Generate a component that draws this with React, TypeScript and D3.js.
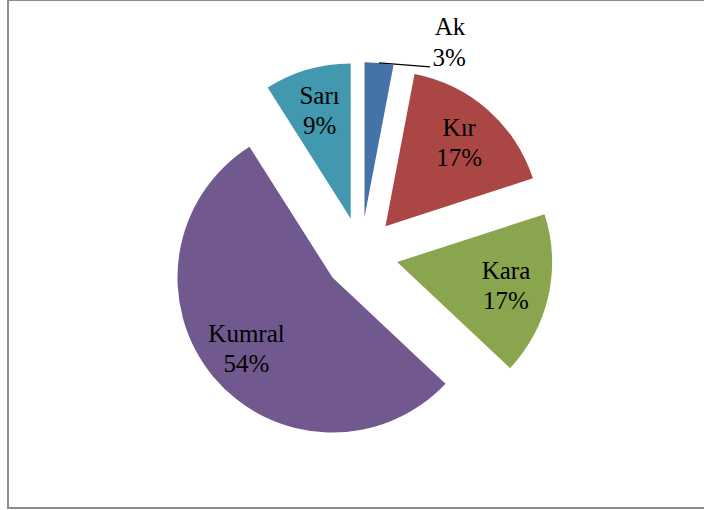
import React from "react";
import * as d3 from "d3";

const width = 704;
const height = 510;

const names = ["Ak", "Kır", "Kara", "Kumral", "Sarı"];
const percents = [3, 17, 17, 54, 9];
const colors = ["#4572A7", "#AA4643", "#89A54E", "#71588F", "#4198AF"];

const cx = 361;
const cy = 254;
const radius = 155;
const explode = 37;

type Slice = d3.PieArcDatum<number>;

const Label = ({ x, y, children }: { x: number; y: number; children: React.ReactNode }) => (
    <text x={x} y={y} textAnchor="middle" fontFamily="Liberation Serif" fontSize={25} fill="#000">
        {children}
    </text>
);

const App = () => {
    const pie = d3.pie<number>().sort(null).value((d) => d);
    const arcs = pie(percents);

    const arc = d3.arc<Slice>().innerRadius(0).outerRadius(radius);
    const labelArc = d3
        .arc<Slice>()
        .innerRadius(radius * 0.72)
        .outerRadius(radius * 0.72);
    const edgeArc = d3.arc<Slice>().innerRadius(radius).outerRadius(radius);

    // offset each slice out along its middle angle
    const shift = (a: Slice) => {
        const mid = (a.startAngle + a.endAngle) / 2;
        return [Math.sin(mid) * explode, -Math.cos(mid) * explode];
    };

    return (
        <svg width={width} height={height} style={{ position: "absolute", left: 0, top: 0 }}>
            <rect x={0} y={0} width={width} height={height} fill="#fff" />
            <rect
                x={8}
                y={0}
                width={720}
                height={508}
                fill="none"
                stroke="#8c8c8c"
                strokeWidth={2}
            />
            <g transform={`translate(${cx},${cy})`}>
                {arcs.map((a, i) => {
                    const [dx, dy] = shift(a);
                    return (
                        <path
                            key={names[i]}
                            d={arc(a) || ""}
                            transform={`translate(${dx},${dy})`}
                            fill={colors[i]}
                        />
                    );
                })}
                {arcs.map((a, i) => {
                    const [dx, dy] = shift(a);
                    if (percents[i] < 5) {
                        // small slice: label outside with a leader line
                        const [ex, ey] = edgeArc.centroid(a);
                        const x0 = ex + dx;
                        const y0 = ey + dy;
                        const x1 = x0 + 51;
                        const y1 = y0 + 4;
                        return (
                            <g key={names[i]}>
                                <line x1={x0} y1={y0} x2={x1} y2={y1} stroke="#000" strokeWidth={1.2} />
                                <Label x={x1 + 20} y={y1 - 32}>{names[i]}</Label>
                                <Label x={x1 + 19} y={y1 - 1}>{percents[i] + "%"}</Label>
                            </g>
                        );
                    }
                    const [cxl, cyl] = labelArc.centroid(a);
                    const lx = cxl + dx;
                    const ly = cyl + dy;
                    return (
                        <g key={names[i]}>
                            <Label x={lx} y={ly - 7}>{names[i]}</Label>
                            <Label x={lx} y={ly + 23}>{percents[i] + "%"}</Label>
                        </g>
                    );
                })}
            </g>
        </svg>
    );
};

export default App;
